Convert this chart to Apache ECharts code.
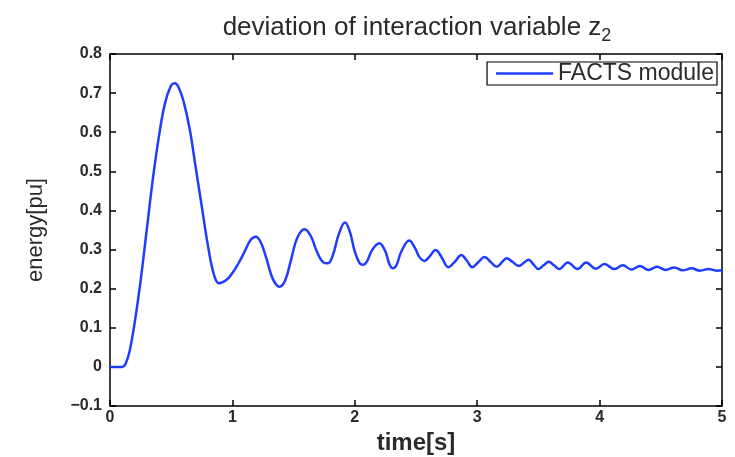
<!DOCTYPE html>
<html>
<head>
<meta charset="utf-8">
<script src="https://cdn.jsdelivr.net/npm/echarts@6/dist/echarts.min.js"></script>
<style>html,body{margin:0;padding:0;background:#fff;}#c{width:735px;height:457px;}</style>
</head>
<body>
<div id="c"></div>
<script>
const timeS = [0,0.1,0.13,0.16,0.2,0.25,0.3,0.35,0.4,0.45,0.5,0.53,0.56,0.6,0.65,0.7,0.75,0.8,0.85,0.89,
  0.95,1.0,1.05,1.1,1.15,1.19,1.23,1.28,1.33,1.385,1.43,1.48,1.53,1.59,1.64,1.69,1.74,1.78,1.82,1.87,1.92,1.96,2.0,2.04,2.07,2.1,2.14,2.2,2.25,2.28,2.31,2.34,2.38,2.445,2.49,2.53,2.57,2.61,2.66,2.71,2.765,2.82,2.87,2.915,2.96,3.01,3.06,3.11,3.16,3.2,3.24,3.29,3.34,3.38,3.42,3.46,3.5,3.54,3.585,3.63,3.67,
  3.74,3.82,3.89,3.97,4.04,4.12,4.19,4.26,4.33,4.4,4.47,4.54,4.61,4.68,4.75,4.82,4.89,4.96,5.0];
const energyPu = [0,0,0.01,0.04,0.11,0.22,0.35,0.48,0.59,0.675,0.72,0.725,0.715,0.68,0.61,0.51,0.41,0.31,0.235,0.214,
  0.222,0.24,0.265,0.295,0.325,0.333,0.32,0.275,0.225,0.205,0.22,0.275,0.33,0.352,0.335,0.295,0.268,0.265,0.285,0.34,0.369,0.345,0.295,0.265,0.261,0.27,0.298,0.316,0.295,0.265,0.252,0.26,0.295,0.323,0.305,0.28,0.271,0.282,0.299,0.28,0.255,0.27,0.286,0.272,0.255,0.268,0.281,0.268,0.256,0.267,0.278,0.268,0.258,0.266,0.274,0.262,0.250,0.259,0.269,0.259,0.250,
  0.267,0.250,0.267,0.251,0.263,0.250,0.260,0.249,0.258,0.248,0.256,0.248,0.254,0.247,0.252,0.246,0.250,0.246,0.247];
const xTicks = [0,1,2,3,4,5];
const yTicks = [-0.1,0,0.1,0.2,0.3,0.4,0.5,0.6,0.7,0.8];
const seriesName = 'FACTS module';

const chart = echarts.init(document.getElementById('c'), null, {renderer:'canvas'});
const font = '"Liberation Sans", Arial, sans-serif';
const tickLabel = {color:'#2a2a2a', fontFamily:font, fontSize:16, fontWeight:'bold'};
const axisBase = () => ({
  axisLine:{show:true, onZero:false, lineStyle:{color:'#000', width:1.5}},
  axisTick:{show:true, inside:true, length:6, lineStyle:{color:'#000', width:1.5}},
  splitLine:{show:false}
});
chart.setOption({
  animation:false,
  backgroundColor:'#fff',
  title:{
    text:'deviation of interaction variable z{s|2}',
    left:412, top:6, textAlign:'center',
    textStyle:{fontFamily:font, fontSize:26, fontWeight:'normal', color:'#2a2a2a',
      rich:{s:{fontFamily:font, fontSize:18, color:'#2a2a2a', padding:[16,0,0,0]}}}
  },
  legend:{
    data:[seriesName], right:18, top:62,
    itemWidth:57, itemHeight:2.5, itemGap:5,
    borderColor:'#000', borderWidth:1.2, padding:[0,3,0,9],
    backgroundColor:'#fff',
    icon:'rect',
    textStyle:{fontFamily:font, fontSize:23, lineHeight:22, color:'#2a2a2a', padding:[0,0,0,0]}
  },
  grid:{left:110, right:13, top:54, bottom:51, outerBoundsMode:'none', containLabel:false},
  xAxis:[
    Object.assign({type:'value', min:0, max:5, interval:1, position:'bottom',
      name:'time[s]', nameLocation:'middle', nameGap:21,
      nameTextStyle:{fontFamily:font, fontSize:24, fontWeight:'bold', color:'#2a2a2a'},
      axisLabel:Object.assign({margin:4, formatter:v=>xTicks.includes(v)?String(v):''}, tickLabel)}, axisBase()),
    Object.assign({type:'value', min:0, max:5, interval:1, position:'top', axisLabel:{show:false}}, axisBase())
  ],
  yAxis:[
    Object.assign({type:'value', min:-0.1, max:0.8, interval:0.1, position:'left',
      name:'energy[pu]', nameLocation:'middle', nameGap:63, nameRotate:90,
      nameTextStyle:{fontFamily:font, fontSize:22, color:'#2a2a2a'},
      axisLabel:Object.assign({margin:8, formatter:v=>{
        const r = Math.round(v*10)/10;
        if (r===0) return '0';
        return (r<0?'\u2212':'') + Math.abs(r).toFixed(1);
      }}, tickLabel)}, axisBase()),
    Object.assign({type:'value', min:-0.1, max:0.8, interval:0.1, position:'right', axisLabel:{show:false}}, axisBase())
  ],
  series:[{
    name:seriesName, type:'line', xAxisIndex:0, yAxisIndex:0,
    data:timeS.map((t,i)=>[t, energyPu[i]]),
    smooth:0.4, showSymbol:false,
    lineStyle:{color:'#1f3dff', width:2.5},
    itemStyle:{color:'#1f3dff'}
  }]
});
</script>
</body>
</html>
